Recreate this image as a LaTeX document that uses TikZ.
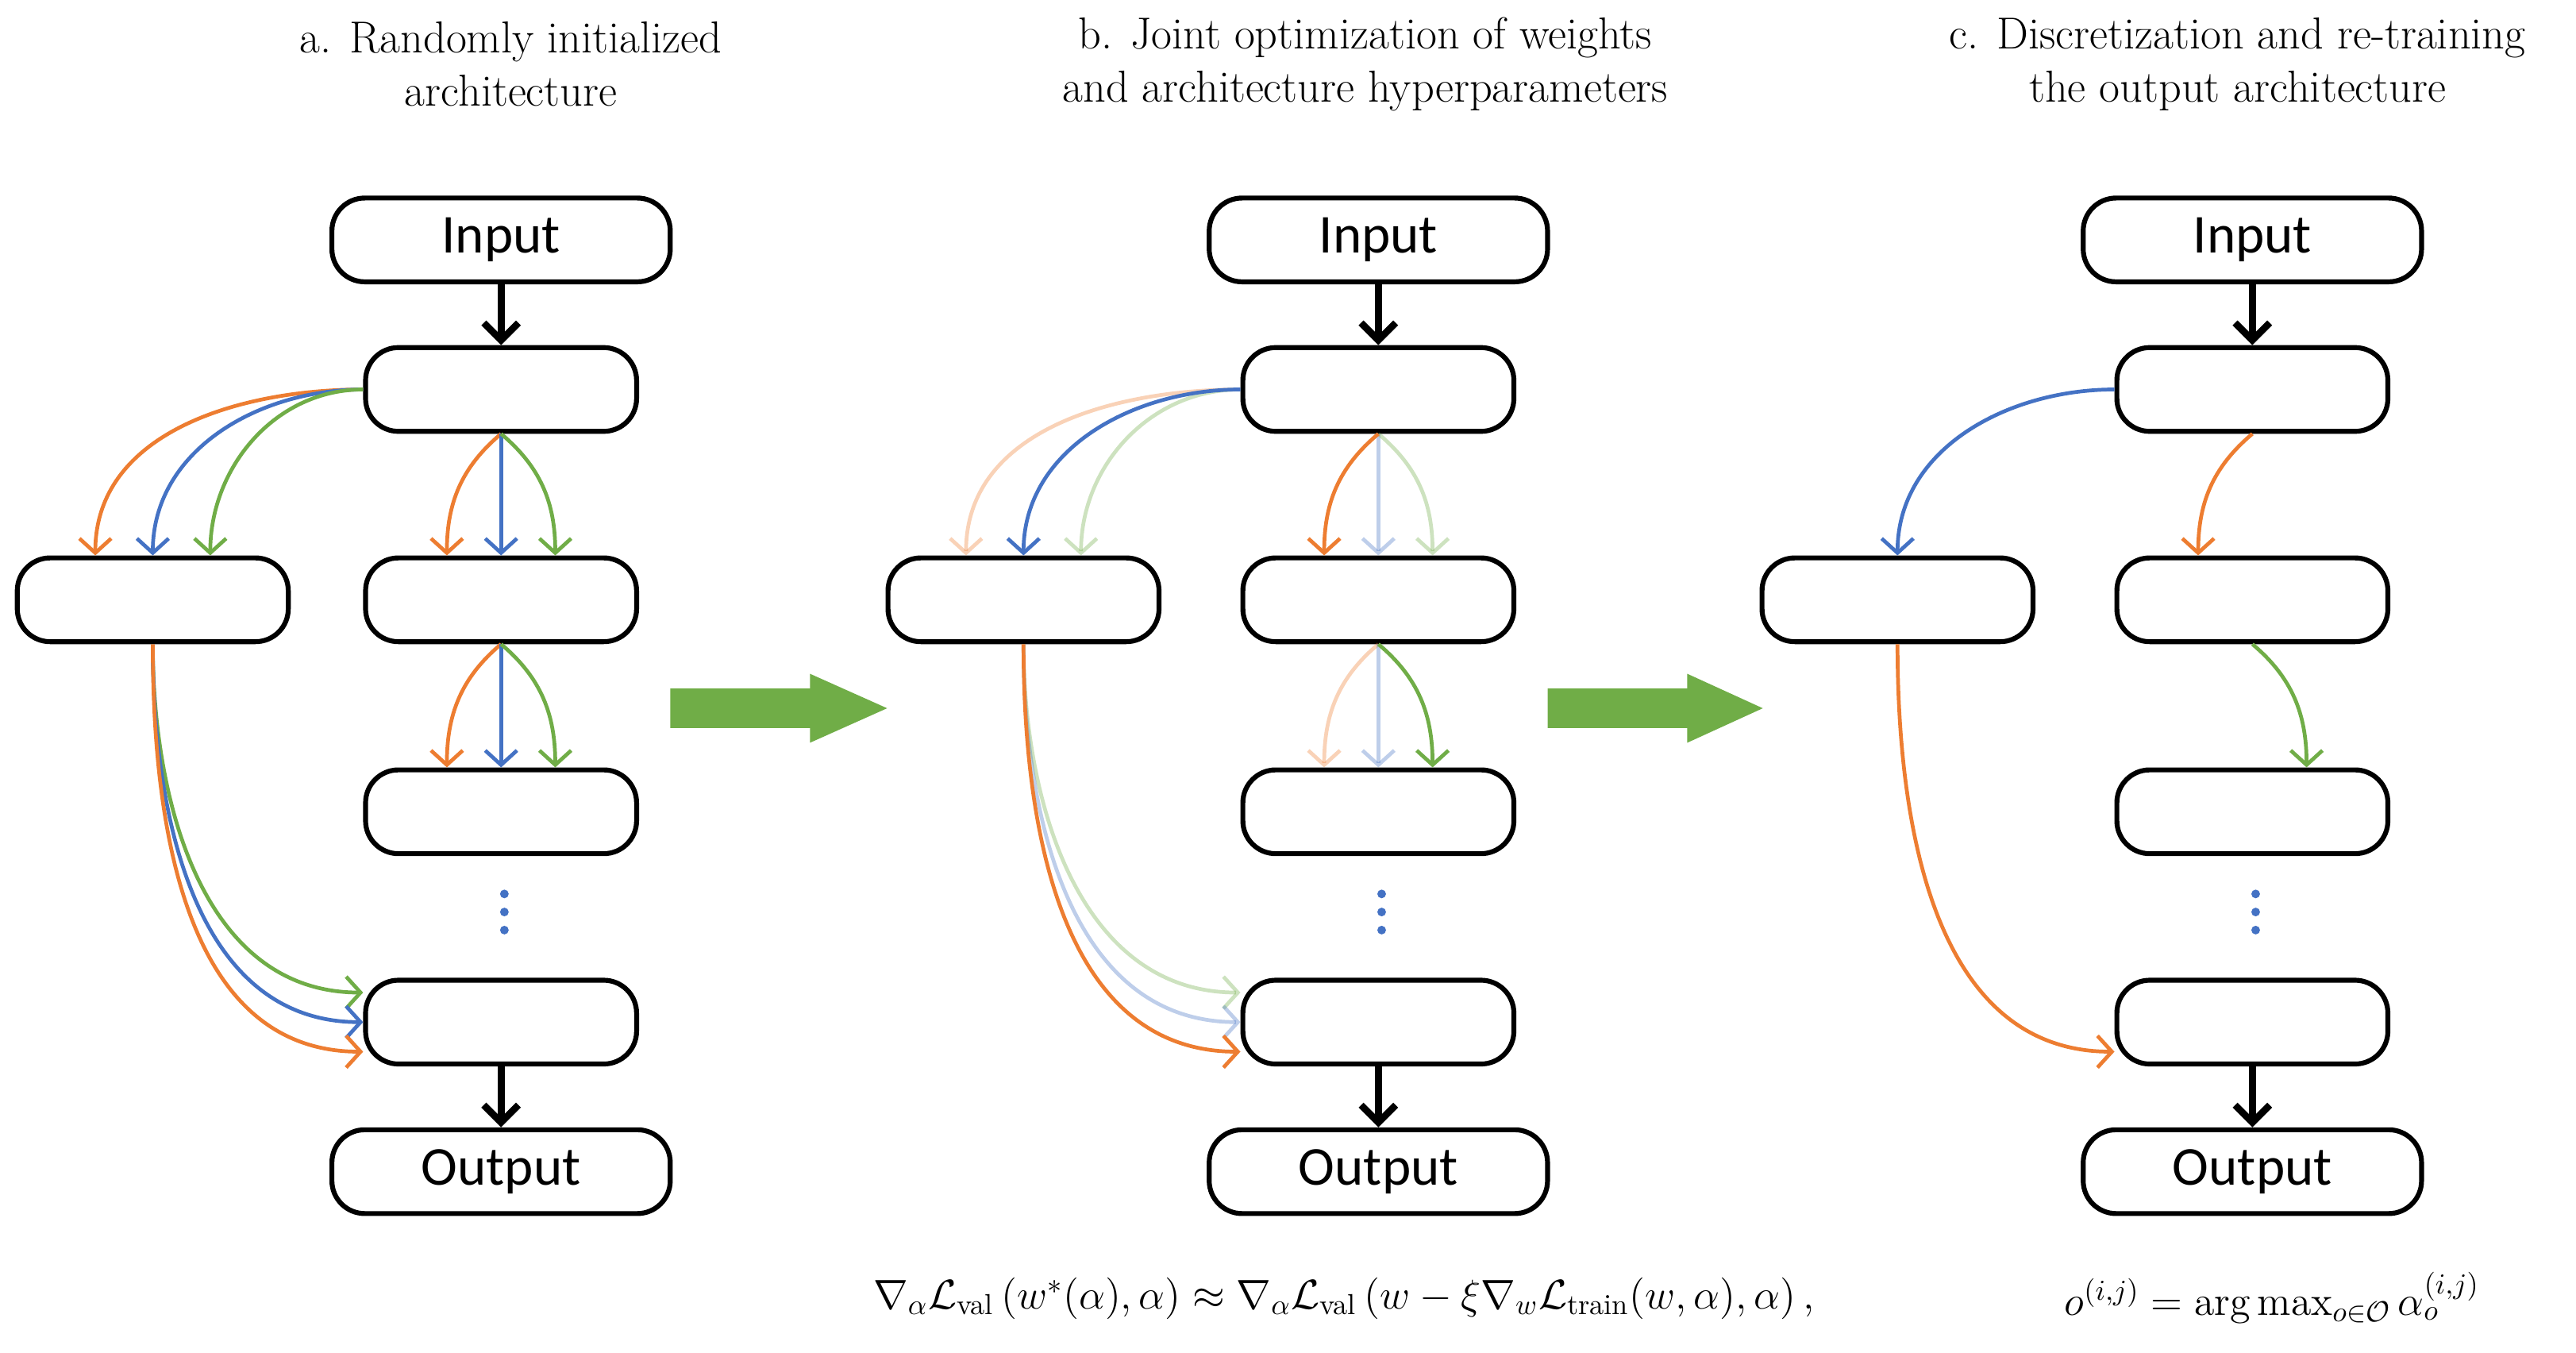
\documentclass[tikz,border=0pt]{standalone}
\usepackage{fontspec}
\usepackage{amsmath,amssymb}
\newfontfamily\boxfont{Carlito}
\usetikzlibrary{arrows.meta}
\definecolor{or}{RGB}{237,125,49}
\definecolor{bl}{RGB}{68,114,196}
\definecolor{gr}{RGB}{112,173,71}
\begin{document}
\begin{tikzpicture}[x=0.02cm,y=-0.02cm,
 bx/.style={draw,line width=1.7pt,rounded corners=0.4cm,minimum width=3.3cm,minimum height=1.02cm,font=\boxfont\fontsize{19}{22}\selectfont,inner sep=0pt},
 io/.style={bx,minimum width=4.12cm},
 blk/.style={line width=2.4pt,-{Straight Barb[length=6pt,width=12pt,line width=2.4pt]}},
 ce/.style={line width=1.3pt,-{Straight Barb[length=5pt,width=11pt,line width=1.3pt]}},
 fd/.style={draw opacity=0.35},
 ttl/.style={align=center,font=\fontsize{15.5}{18.5}\selectfont},
 dot/.style={circle,fill=bl,inner sep=0pt,minimum size=3pt},
 bigarr/.style={fill=gr,draw=none}]
\useasboundingbox (0,0) rectangle (1568,823);
\newcommand\mypanel[3]{%
 \begin{scope}[xshift=#1*0.02cm]
 \node[io] (#2in) at (305,146) {Input};
 \node[bx] (#2b1) at (305,237) {};
 \node[bx] (#2b2) at (305,365) {};
 \node[bx] (#2b3) at (305,494) {};
 \node[bx] (#2b4) at (305,622) {};
 \node[io] (#2out) at (305,713) {Output};
 \node[bx] (#2L) at (#3,365) {};
 \node[dot] (#2d1) at (307,544) {};
 \node[dot] (#2d2) at (307,555) {};
 \node[dot] (#2d3) at (307,566) {};
 \draw[blk] (#2in) -- (#2b1);
 \draw[blk] (#2b4) -- (#2out);
 \end{scope}}
\mypanel{0}{a}{93}
\mypanel{534}{b}{89}
\mypanel{1066}{c}{89}
% titles
\node[ttl] (ta) at (311,39) {a. Randomly initialized\\architecture};
\node[ttl] (tb) at (831,39) {b. Joint optimization of weights\\and architecture hyperparameters};
\node[ttl] (tc) at (1362,39) {c. Discretization and re-training\\the output architecture};
% big arrows
\fill[bigarr] (408,419) -- (493,419) -- (493,410) -- (540,431) -- (493,452) -- (493,443) -- (408,443) -- cycle;
\fill[bigarr] (942,419) -- (1027,419) -- (1027,410) -- (1073,431) -- (1027,452) -- (1027,443) -- (942,443) -- cycle;
% panel a edges
\draw[ce,or] (ab1.west) to[out=180,in=90] ([xshift=-0.7cm]aL.north);
\draw[ce,bl] (ab1.west) to[out=180,in=90] (aL.north);
\draw[ce,gr] (ab1.west) to[out=180,in=90] ([xshift=0.7cm]aL.north);
\draw[ce,or] (ab1.south) to[out=-140,in=90] ([xshift=-0.66cm]ab2.north);
\draw[ce,bl] (ab1.south) -- (ab2.north);
\draw[ce,gr] (ab1.south) to[out=-40,in=90] ([xshift=0.66cm]ab2.north);
\draw[ce,or] (ab2.south) to[out=-140,in=90] ([xshift=-0.66cm]ab3.north);
\draw[ce,bl] (ab2.south) -- (ab3.north);
\draw[ce,gr] (ab2.south) to[out=-40,in=90] ([xshift=0.66cm]ab3.north);
\draw[ce,gr] (aL.south) to[out=-90,in=180] ([yshift=0.36cm]ab4.west);
\draw[ce,bl] (aL.south) to[out=-90,in=180] (ab4.west);
\draw[ce,or] (aL.south) to[out=-90,in=180] ([yshift=-0.36cm]ab4.west);
% panel b edges
\draw[ce,or,fd] (bb1.west) to[out=180,in=90] ([xshift=-0.7cm]bL.north);
\draw[ce,gr,fd] (bb1.west) to[out=180,in=90] ([xshift=0.7cm]bL.north);
\draw[ce,bl] (bb1.west) to[out=180,in=90] (bL.north);
\draw[ce,bl,fd] (bb1.south) -- (bb2.north);
\draw[ce,gr,fd] (bb1.south) to[out=-40,in=90] ([xshift=0.66cm]bb2.north);
\draw[ce,or] (bb1.south) to[out=-140,in=90] ([xshift=-0.66cm]bb2.north);
\draw[ce,or,fd] (bb2.south) to[out=-140,in=90] ([xshift=-0.66cm]bb3.north);
\draw[ce,bl,fd] (bb2.south) -- (bb3.north);
\draw[ce,gr] (bb2.south) to[out=-40,in=90] ([xshift=0.66cm]bb3.north);
\draw[ce,gr,fd] (bL.south) to[out=-90,in=180] ([yshift=0.36cm]bb4.west);
\draw[ce,bl,fd] (bL.south) to[out=-90,in=180] (bb4.west);
\draw[ce,or] (bL.south) to[out=-90,in=180] ([yshift=-0.36cm]bb4.west);
% panel c edges
\draw[ce,bl] (cb1.west) to[out=180,in=90] (cL.north);
\draw[ce,or] (cb1.south) to[out=-140,in=90] ([xshift=-0.66cm]cb2.north);
\draw[ce,gr] (cb2.south) to[out=-40,in=90] ([xshift=0.66cm]cb3.north);
\draw[ce,or] (cL.south) to[out=-90,in=180] ([yshift=-0.36cm]cb4.west);
% formulas
\node[font=\fontsize{14.3}{17}\selectfont] (fb) at (818,790) {$\nabla_\alpha \mathcal{L}_{\text{val}}\left(w^*(\alpha),\alpha\right) \approx \nabla_\alpha \mathcal{L}_{\text{val}}\left(w-\xi\nabla_w\mathcal{L}_{\text{train}}(w,\alpha),\alpha\right),$};
\node[font=\fontsize{14.3}{17}\selectfont] (fc) at (1383,790) {$o^{(i,j)} = \arg\max_{o\in\mathcal{O}} \alpha_o^{(i,j)}$};
\end{tikzpicture}
\end{document}
